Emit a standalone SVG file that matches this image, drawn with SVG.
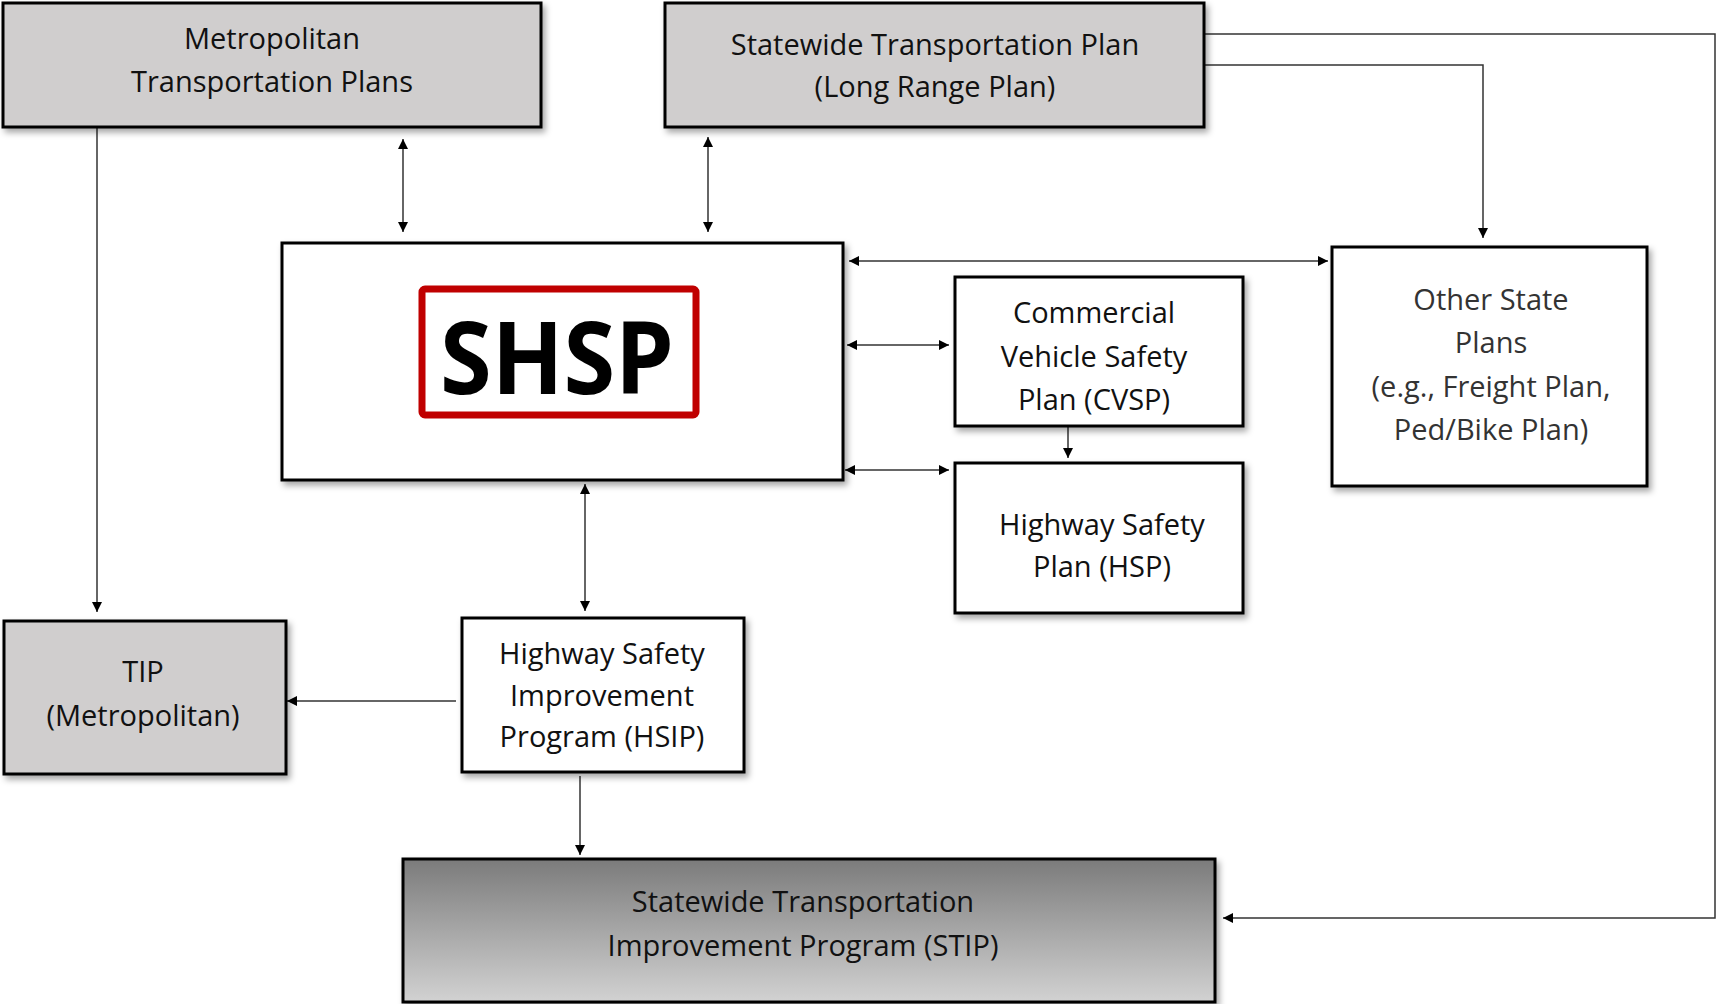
<svg xmlns="http://www.w3.org/2000/svg" width="1717" height="1004" viewBox="0 0 1717 1004">
<defs>
<style>
.box{stroke:#000;stroke-width:3;filter:url(#sh)}
.gray{fill:#d0cece}
.white{fill:#fff}
.t{font-family:"Open Sans",Lato,"Liberation Sans",sans-serif;font-size:29px;fill:#111;text-anchor:middle}
.c{fill:none;stroke:#333;stroke-width:1.5}
.c1{marker-end:url(#ah)}
.c2{marker-start:url(#ah);marker-end:url(#ah)}
</style>
<filter id="sh" x="-5%" y="-5%" width="112%" height="115%">
<feDropShadow dx="3" dy="4" stdDeviation="3" flood-color="#000" flood-opacity="0.35"/>
</filter>
<linearGradient id="stipg" x1="0" y1="0" x2="0" y2="1">
<stop offset="0" stop-color="#7b7b7b"/>
<stop offset="1" stop-color="#d2d2d2"/>
</linearGradient>
<marker id="ah" viewBox="0 0 10 10" refX="10" refY="5" markerWidth="11" markerHeight="10" markerUnits="userSpaceOnUse" orient="auto-start-reverse">
<path d="M0,0 L10,5 L0,10 Z" fill="#000"/>
</marker>
</defs>
<rect width="1717" height="1004" fill="#fff"/>

<g id="connectors">
<path class="c c1" d="M97,127 V612"/>
<path class="c c2" d="M403,139 V232"/>
<path class="c c2" d="M708,137 V232"/>
<path class="c c1" d="M1204,65 H1483 V238"/>
<path class="c c1" d="M1204,34 H1715 V918 H1223"/>
<path class="c c2" d="M849,261 H1328"/>
<path class="c c2" d="M847,345 H949"/>
<path class="c c2" d="M845,470 H949"/>
<path class="c c1" d="M1068,427 V458"/>
<path class="c c2" d="M585,484 V611"/>
<path class="c c1" d="M456,701 H287"/>
<path class="c c1" d="M580,776 V855"/>
</g>

<g id="metro">
<rect class="box gray" x="3" y="3" width="538" height="124"/>
<text class="t" x="272" y="49">Metropolitan</text>
<text class="t" x="272" y="92">Transportation Plans</text>
</g>

<g id="statewide">
<rect class="box gray" x="665" y="3" width="539" height="124"/>
<text class="t" x="935" y="55">Statewide Transportation Plan</text>
<text class="t" x="935" y="97">(Long Range Plan)</text>
</g>

<g id="shsp">
<rect class="box white" x="282" y="243" width="561" height="237"/>
<rect x="422" y="289" width="274" height="126" rx="3" fill="none" stroke="#c00000" stroke-width="7"/>
<text x="557" y="394" font-family="'Open Sans','Liberation Sans',sans-serif" font-weight="bold" font-size="100" text-anchor="middle" fill="#000" textLength="234" lengthAdjust="spacingAndGlyphs">SHSP</text>
</g>

<g id="cvsp">
<rect class="box white" x="955" y="277" width="288" height="149"/>
<text class="t" x="1094" y="323">Commercial</text>
<text class="t" x="1094" y="367">Vehicle Safety</text>
<text class="t" x="1094" y="410">Plan (CVSP)</text>
</g>

<g id="hsp">
<rect class="box white" x="955" y="463" width="288" height="150"/>
<text class="t" x="1102" y="535">Highway Safety</text>
<text class="t" x="1102" y="577">Plan (HSP)</text>
</g>

<g id="other">
<rect class="box white" x="1332" y="247" width="315" height="239"/>
<text class="t" x="1491" y="310" style="fill:#333">Other State</text>
<text class="t" x="1491" y="353" style="fill:#333">Plans</text>
<text class="t" x="1491" y="397" style="fill:#333">(e.g., Freight Plan,</text>
<text class="t" x="1491" y="440" style="fill:#333">Ped/Bike Plan)</text>
</g>

<g id="tip">
<rect class="box gray" x="4" y="621" width="282" height="153"/>
<text class="t" x="143" y="682">TIP</text>
<text class="t" x="143" y="726">(Metropolitan)</text>
</g>

<g id="hsip">
<rect class="box white" x="462" y="618" width="282" height="154"/>
<text class="t" x="602" y="664">Highway Safety</text>
<text class="t" x="602" y="706">Improvement</text>
<text class="t" x="602" y="747">Program (HSIP)</text>
</g>

<g id="stip">
<rect class="box" fill="url(#stipg)" x="403" y="859" width="812" height="143"/>
<text class="t" x="803" y="912">Statewide Transportation</text>
<text class="t" x="803" y="956">Improvement Program (STIP)</text>
</g>
</svg>
